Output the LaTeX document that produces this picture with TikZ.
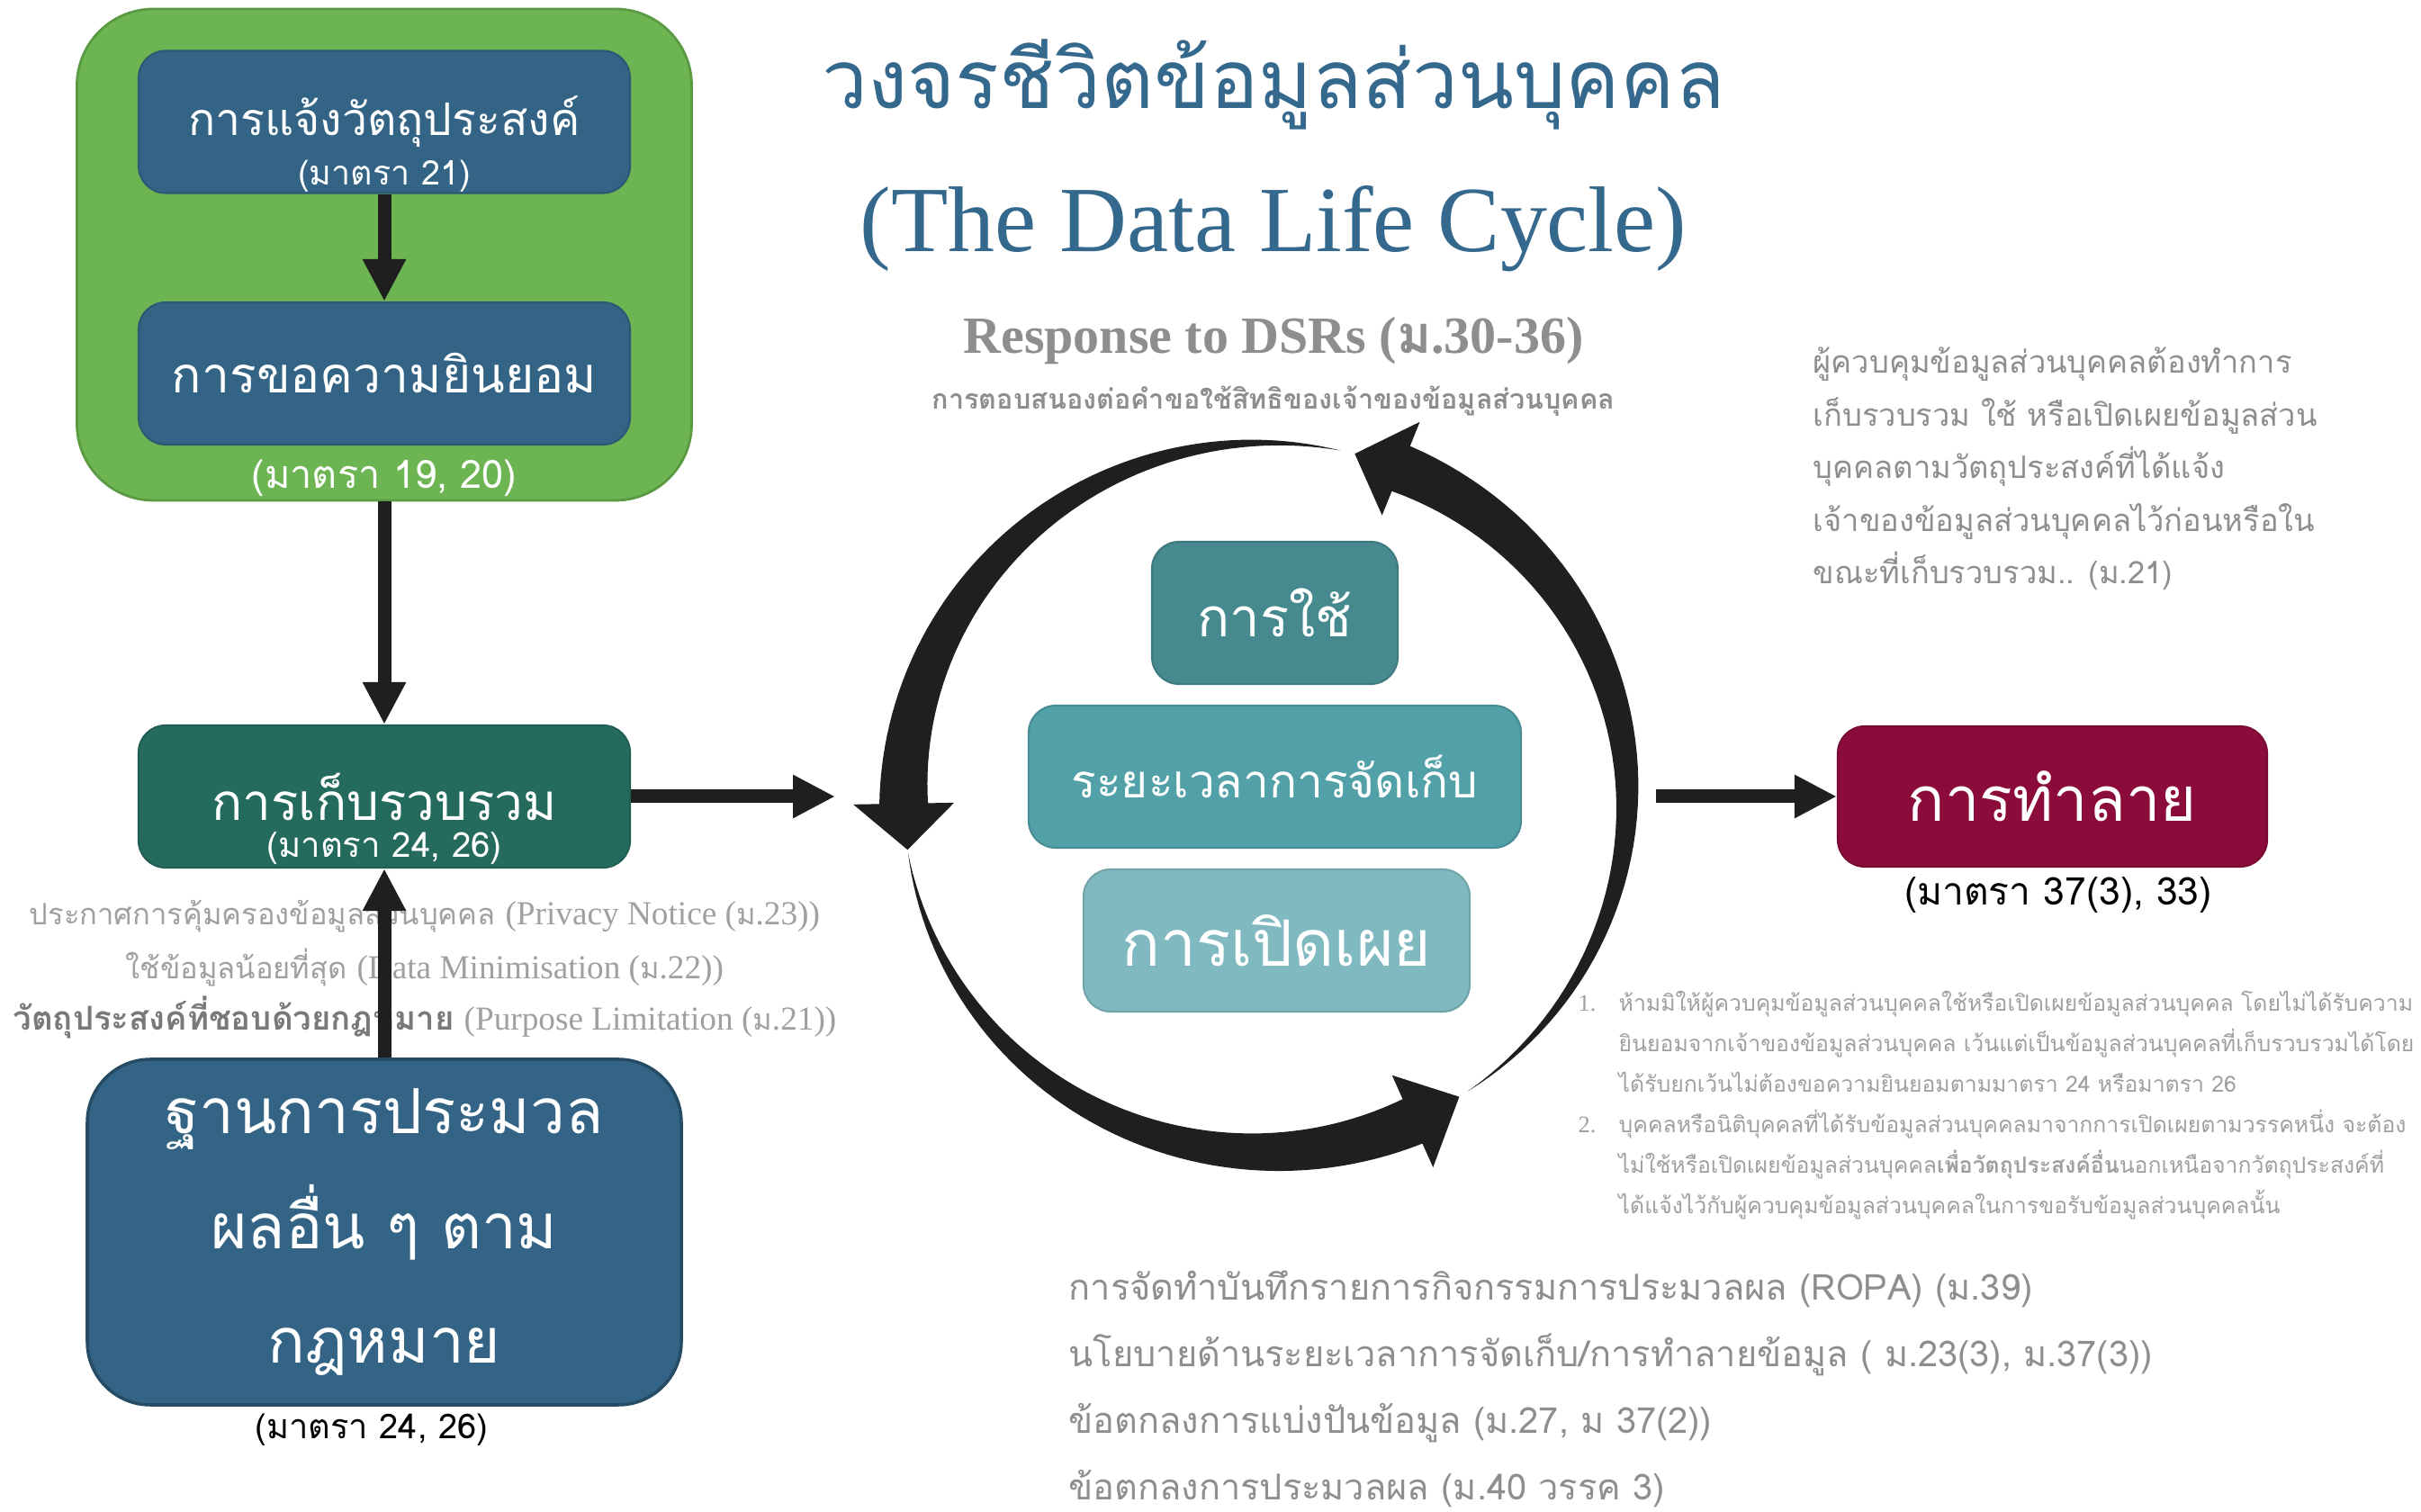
\documentclass[tikz,border=0pt]{standalone}
\usepackage{fontspec}
\setmainfont{Liberation Serif}
\newfontfamily\thai[Script=Thai]{Loma}
\usetikzlibrary{arrows.meta}
\definecolor{dlcGreen}{HTML}{6DB552}
\definecolor{dlcGreenEdge}{HTML}{5A9A43}
\definecolor{dlcBlue}{HTML}{336485}
\definecolor{dlcTeal}{HTML}{246B5E}
\definecolor{dlcUse}{HTML}{468A8F}
\definecolor{dlcKeep}{HTML}{52A0A8}
\definecolor{dlcShare}{HTML}{80BAC0}
\definecolor{dlcWine}{HTML}{8B0B3A}
\definecolor{dlcTitle}{HTML}{35688D}
\definecolor{dlcInk}{HTML}{1F1F1F}
\definecolor{dlcGray}{HTML}{8E8E8E}
\definecolor{dlcLight}{HTML}{A0A0A0}
\newcommand{\dlcfont}[2]{\thai\fontsize{#1}{#2}\selectfont}
\newcommand{\dlclatin}{\rmfamily\fontsize{10.6}{12}\selectfont}
% tapered arc arrow round the cycle: tail angle, head base angle, tip angle
\newcommand{\cyclearrow}[3]{%
  \fill[dlcInk]
    plot[domain=#1:#2, samples=60]
      ({14.06+(4.02+0.27*(\x-(#1))/(#2-(#1)))*cos(\x)}, {7.94+(3.94+0.27*(\x-(#1))/(#2-(#1)))*sin(\x)})
    -- ({14.06+4.58*cos(#2)}, {7.94+4.50*sin(#2)})
    -- ({14.06+4.02*cos(#3)}, {7.94+3.94*sin(#3)})
    -- ({14.06+3.46*cos(#2)}, {7.94+3.38*sin(#2)})
    -- plot[domain=#2:#1, samples=60]
      ({14.06+(4.02-0.27*(\x-(#1))/(#2-(#1)))*cos(\x)}, {7.94+(3.94-0.27*(\x-(#1))/(#2-(#1)))*sin(\x)})
    -- cycle;
}
\tikzset{
  dlc area/.style={draw=dlcGreenEdge, fill=dlcGreen, line width=0.8pt, rounded corners=8.5mm,
    minimum width=6.83cm, minimum height=5.46cm},
  dlc box/.style={fill=#1, draw=#1!88!black, line width=0.6pt, rounded corners=3mm,
    text=white, align=center, inner sep=0pt, minimum height=1.58cm},
  dlc arrow/.style={draw=dlcInk, line width=1.5mm, -{Triangle[length=4.7mm,width=4.5mm]}},
  dlc ref/.style={inner sep=0pt},
  dlc note/.style={inner sep=0pt, text=dlcGray},
}

\begin{document}
\begin{tikzpicture}
  \path[use as bounding box, fill=white] (0,0) rectangle (26.9,16.8);

  % titles
  \node[dlc ref, text=dlcTitle, font=\dlcfont{25.8}{31}] (title) at (14.15,15.86) {วงจรชีวิตข้อมูลส่วนบุคคล};
  \node[dlc ref, text=dlcTitle, font=\fontsize{29.5}{35}\selectfont] (titleen) at (14.15,14.26) {(The Data Life Cycle)};
  \node[dlc note, font=\bfseries\fontsize{16.5}{20}\selectfont] (dsr) at (14.15,13.01) {Response to DSRs ({\thai ม}.30-36)};
  \node[dlc note, font=\dlcfont{8.7}{10}\bfseries] (dsrth) at (14.15,12.34) {การตอบสนองต่อคำขอใช้สิทธิของเจ้าของข้อมูลส่วนบุคคล};

  % consent stage
  \node[dlc area] (consentarea) at (4.27,13.97) {};
  \node[dlc box=dlcBlue, minimum width=5.46cm, font=\dlcfont{14.2}{17}] (purpose) at (4.27,15.445) {การแจ้งวัตถุประสงค์};
  \node[dlc ref, text=white, font=\dlcfont{10.7}{13}] (purposeref) at ([yshift=2mm]purpose.south) {(มาตรา 21)};
  \node[dlc box=dlcBlue, minimum width=5.46cm, font=\dlcfont{15.7}{19}] (consent) at (4.27,12.65) {การขอความยินยอม};
  \node[dlc ref, text=white, font=\dlcfont{12.3}{15}] (consentref) at ([yshift=2.6mm]consentarea.south) {(มาตรา 19, 20)};

  % collection and lawful basis
  \node[dlc box=dlcTeal, minimum width=5.46cm, font=\dlcfont{16.1}{19}] (collect) at (4.27,7.95) {การเก็บรวบรวม};
  \node[dlc ref, text=white, font=\dlcfont{10.9}{13}] (collectref) at ([yshift=2.2mm]collect.south) {(มาตรา 24, 26)};
  \node[dlc note, anchor=base, text=dlcLight, font=\dlcfont{9.3}{12}] (notice) at (4.72,6.52)
    {ประกาศการคุ้มครองข้อมูลส่วนบุคคล {\dlclatin(Privacy Notice (}ม{\dlclatin.23))}};
  \node[dlc note, anchor=base, text=dlcLight, font=\dlcfont{9.3}{12}] (minimise) at (4.72,5.92)
    {ใช้ข้อมูลน้อยที่สุด {\dlclatin(Data Minimisation (}ม{\dlclatin.22))}};
  \node[dlc note, anchor=base, text=dlcLight, font=\dlcfont{9.3}{12}] (lawfulpurpose) at (4.72,5.35)
    {{\fontsize{10.4}{12}\selectfont\bfseries\color{dlcGray!85!black}วัตถุประสงค์ที่ชอบด้วยกฎหมาย} {\dlclatin(Purpose Limitation (}ม{\dlclatin.21))}};
  \node[dlc box=dlcBlue, draw=dlcBlue!75!black, line width=1pt, rounded corners=7mm, minimum width=6.6cm,
    minimum height=3.84cm, font=\dlcfont{19.7}{36.4}] (lawful) at (4.27,3.11) {ฐานการประมวล\\ผลอื่น ๆ ตาม\\กฎหมาย};
  \node[dlc ref, font=\dlcfont{10.8}{13}] (lawfulref) at ([xshift=-1.4mm,yshift=-2.6mm]lawful.south) {(มาตรา 24, 26)};

  % cycle of use, retention and disclosure
  \node[dlc box=dlcUse, minimum width=2.73cm, font=\dlcfont{17}{20}] (use) at (14.165,9.99) {การใช้};
  \node[dlc box=dlcKeep, minimum width=5.47cm, font=\dlcfont{14.6}{17}] (keep) at (14.165,8.17) {ระยะเวลาการจัดเก็บ};
  \node[dlc box=dlcShare, minimum width=4.29cm, font=\dlcfont{20.2}{24}] (share) at (14.185,6.35) {การเปิดเผย};
  \cyclearrow{-56}{68}{75.7}
  \cyclearrow{78}{181}{188.5}
  \cyclearrow{189}{294}{302.4}

  % destruction
  \node[dlc box=dlcWine, minimum width=4.77cm, minimum height=1.56cm, font=\dlcfont{19.5}{23}] (destroy) at (22.805,7.95) {การทำลาย};
  \node[dlc ref, font=\dlcfont{12.1}{14}] (destroyref) at (22.87,6.85) {(มาตรา 37(3), 33)};

  % notes
  \foreach \txt [count=\i] in {{ผู้ควบคุมข้อมูลส่วนบุคคลต้องทำการ},
      {เก็บรวบรวม ใช้ หรือเปิดเผยข้อมูลส่วน},
      {บุคคลตามวัตถุประสงค์ที่ได้แจ้ง},
      {เจ้าของข้อมูลส่วนบุคคลไว้ก่อนหรือใน},
      {ขณะที่เก็บรวบรวม.. (ม.21)}}
    \node[dlc note, anchor=base west, font=\dlcfont{9.8}{12}] (duty\i) at (20.14,{12.65-0.585*(\i-1)}) {\txt};

  \node[dlc note, anchor=base west, text=dlcLight, font=\fontsize{7.5}{9}\selectfont] (rulenum1) at (17.53,5.56) {1.};
  \node[dlc note, anchor=base west, text=dlcLight, font=\fontsize{7.5}{9}\selectfont] (rulenum2) at (17.53,4.21) {2.};
  \foreach \txt [count=\i] in {{ห้ามมิให้ผู้ควบคุมข้อมูลส่วนบุคคลใช้หรือเปิดเผยข้อมูลส่วนบุคคล โดยไม่ได้รับความ},
      {ยินยอมจากเจ้าของข้อมูลส่วนบุคคล เว้นแต่เป็นข้อมูลส่วนบุคคลที่เก็บรวบรวมได้โดย},
      {ได้รับยกเว้นไม่ต้องขอความยินยอมตามมาตรา 24 หรือมาตรา 26},
      {บุคคลหรือนิติบุคคลที่ได้รับข้อมูลส่วนบุคคลมาจากการเปิดเผยตามวรรคหนึ่ง จะต้อง},
      {ไม่ใช้หรือเปิดเผยข้อมูลส่วนบุคคล\textbf{เพื่อวัตถุประสงค์อื่น}นอกเหนือจากวัตถุประสงค์ที่},
      {ได้แจ้งไว้กับผู้ควบคุมข้อมูลส่วนบุคคลในการขอรับข้อมูลส่วนบุคคลนั้น}}
    \node[dlc note, anchor=base west, text=dlcLight, font=\dlcfont{7.05}{9}] (rule\i) at (17.98,{5.56-0.45*(\i-1)}) {\txt};

  \foreach \txt [count=\i] in {{การจัดทำบันทึกรายการกิจกรรมการประมวลผล (ROPA) (ม.39)},
      {นโยบายด้านระยะเวลาการจัดเก็บ/การทำลายข้อมูล ( ม.23(3), ม.37(3))},
      {ข้อตกลงการแบ่งปันข้อมูล (ม.27, ม 37(2))},
      {ข้อตกลงการประมวลผล (ม.40 วรรค 3)}}
    \node[dlc note, anchor=base west, font=\dlcfont{11.3}{14}] (record\i) at (11.87,{2.35-0.74*(\i-1)}) {\txt};

  % connectors
  \coordinate (cyclein) at (9.28,7.95);
  \coordinate (cycleout) at (18.40,7.95);
  \draw[dlc arrow] (purpose) -- (consent);
  \draw[dlc arrow] (consentarea) -- (collect);
  \draw[dlc arrow] (lawful) -- (collect);
  \draw[dlc arrow] (collect) -- (cyclein);
  \draw[dlc arrow] (cycleout) -- (destroy);
\end{tikzpicture}
\end{document}
